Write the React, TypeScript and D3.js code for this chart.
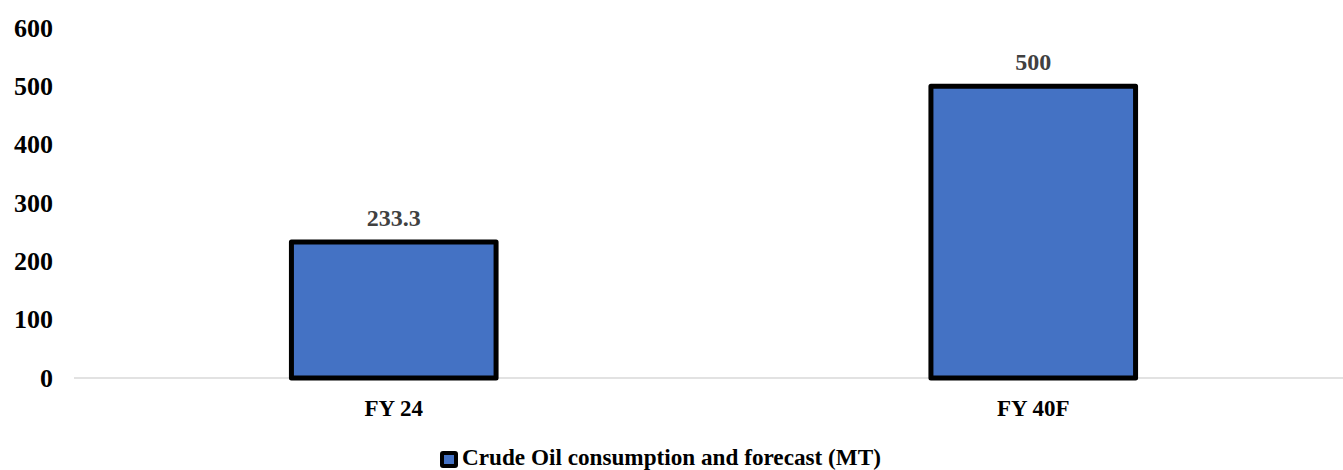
import React from "react";
import * as d3 from "d3";

const categories = ["FY 24", "FY 40F"];
const values = [233.3, 500];
const valueLabels = ["233.3", "500"];
const yTicks = [0, 100, 200, 300, 400, 500, 600];
const seriesName = "Crude Oil consumption and forecast (MT)";

const W = 1343;
const H = 470;
const FONT = "'Liberation Serif', 'Times New Roman', serif";

export default function App() {
  const y = d3.scaleLinear().domain([0, 600]).range([378, 28]);
  const x = d3
    .scaleBand<string>()
    .domain(categories)
    .range([74, 1353])
    .paddingInner(0.68)
    .paddingOuter(0.34);
  const bw = x.bandwidth();
  return (
    <svg
      width={W}
      height={H}
      style={{ position: "absolute", left: 0, top: 0, background: "#fff" }}
      fontFamily={FONT}
    >
      <line x1={74} x2={W} y1={y(0)} y2={y(0)} stroke="#d9d9d9" strokeWidth={1.5} />
      {yTicks.map((t) => (
        <text
          key={t}
          x={53}
          y={y(t)}
          textAnchor="end"
          dominantBaseline="central"
          fontSize={26}
          fontWeight="bold"
          fill="#000"
        >
          {t}
        </text>
      ))}
      {categories.map((c, i) => {
        const x0 = x(c)!;
        return (
          <g key={c}>
            <rect
              x={x0}
              y={y(values[i])}
              width={bw}
              height={y(0) - y(values[i])}
              fill="#4472C4"
              stroke="#000"
              strokeWidth={5}
              strokeLinejoin="round"
            />
            <text
              x={x0 + bw / 2}
              y={y(values[i]) - 24}
              textAnchor="middle"
              dominantBaseline="central"
              fontSize={24}
              fontWeight="bold"
              fill="#404040"
            >
              {valueLabels[i]}
            </text>
            <text
              x={x0 + bw / 2}
              y={408}
              textAnchor="middle"
              dominantBaseline="central"
              fontSize={23}
              fontWeight="bold"
              fill="#000"
            >
              {c}
            </text>
          </g>
        );
      })}
      <g>
        <rect x={440} y={451} width={18} height={17} rx={3} fill="#000" />
        <rect x={444} y={455} width={10} height={9} fill="#4472C4" />
        <text
          x={462}
          y={465}
          fontSize={23.2}
          fontWeight="bold"
          fill="#000"
        >
          {seriesName}
        </text>
      </g>
    </svg>
  );
}
